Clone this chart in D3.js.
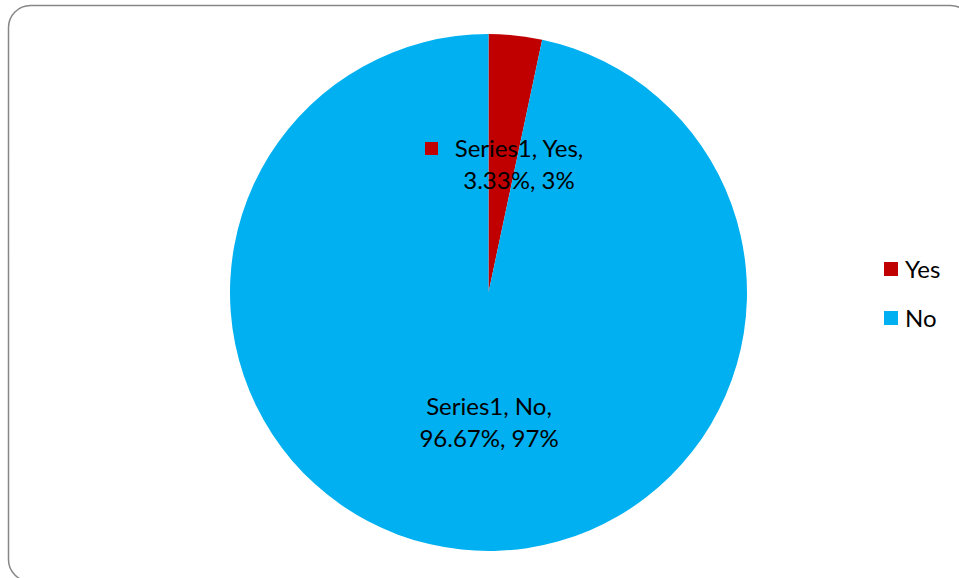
<!DOCTYPE html>
<html>
<head>
<meta charset="utf-8">
<script src="https://cdn.jsdelivr.net/npm/d3@7"></script>
<style>
  body { margin: 0; background: #fff; }
  text { font-family: Lato, "Open Sans", sans-serif; fill: #000; }
</style>
</head>
<body>
<svg></svg>
<script>
const categories = ["Yes", "No"];
const values = [3.33, 96.67];
const rounded = ["3%", "97%"];
const seriesName = "Series1";
const colors = ["#C00000", "#00B0F0"];

const w = 959, h = 578;
const svg = d3.select("svg").attr("width", w).attr("height", h);

// chart frame
svg.append("rect")
  .attr("x", 8.5).attr("y", 5.5)
  .attr("width", 964).attr("height", 576)
  .attr("rx", 22)
  .attr("fill", "#fff")
  .attr("stroke", "#868686")
  .attr("stroke-width", 1.5);

const cx = 488.5, cy = 292.5, radius = 258.5;
const data = categories.map((c, i) => ({ cat: c, value: values[i], round: rounded[i] }));

const color = d3.scaleOrdinal().domain(categories).range(colors);
const pie = d3.pie().value(d => d.value).sort(null);
const arc = d3.arc().innerRadius(0).outerRadius(radius);

const g = svg.append("g").attr("transform", `translate(${cx},${cy})`);
g.selectAll("path")
  .data(pie(data))
  .enter()
  .append("path")
  .attr("d", arc)
  .attr("fill", d => color(d.data.cat));

// data labels
const labelPos = [
  { x: 519, y1: 157, y2: 189, marker: true },
  { x: 489, y1: 415, y2: 447, marker: false }
];
data.forEach((d, i) => {
  const p = labelPos[i];
  svg.append("text")
    .attr("x", p.x).attr("y", p.y1)
    .attr("text-anchor", "middle")
    .style("font-size", "24px")
    .text(`${seriesName}, ${d.cat},`);
  svg.append("text")
    .attr("x", p.x).attr("y", p.y2)
    .attr("text-anchor", "middle")
    .style("font-size", "24px")
    .text(`${d.value.toFixed(2)}%, ${d.round}`);
  if (p.marker) {
    svg.append("rect")
      .attr("x", 425).attr("y", 142)
      .attr("width", 13).attr("height", 13)
      .attr("fill", color(d.cat));
  }
});

// legend
const legend = svg.append("g");
categories.forEach((c, i) => {
  const ly = 262 + i * 49;
  legend.append("rect")
    .attr("x", 884).attr("y", ly)
    .attr("width", 14).attr("height", 14)
    .attr("fill", color(c));
  legend.append("text")
    .attr("x", 905).attr("y", ly + 16)
    .style("font-size", "24px")
    .text(c);
});
</script>
</body>
</html>
